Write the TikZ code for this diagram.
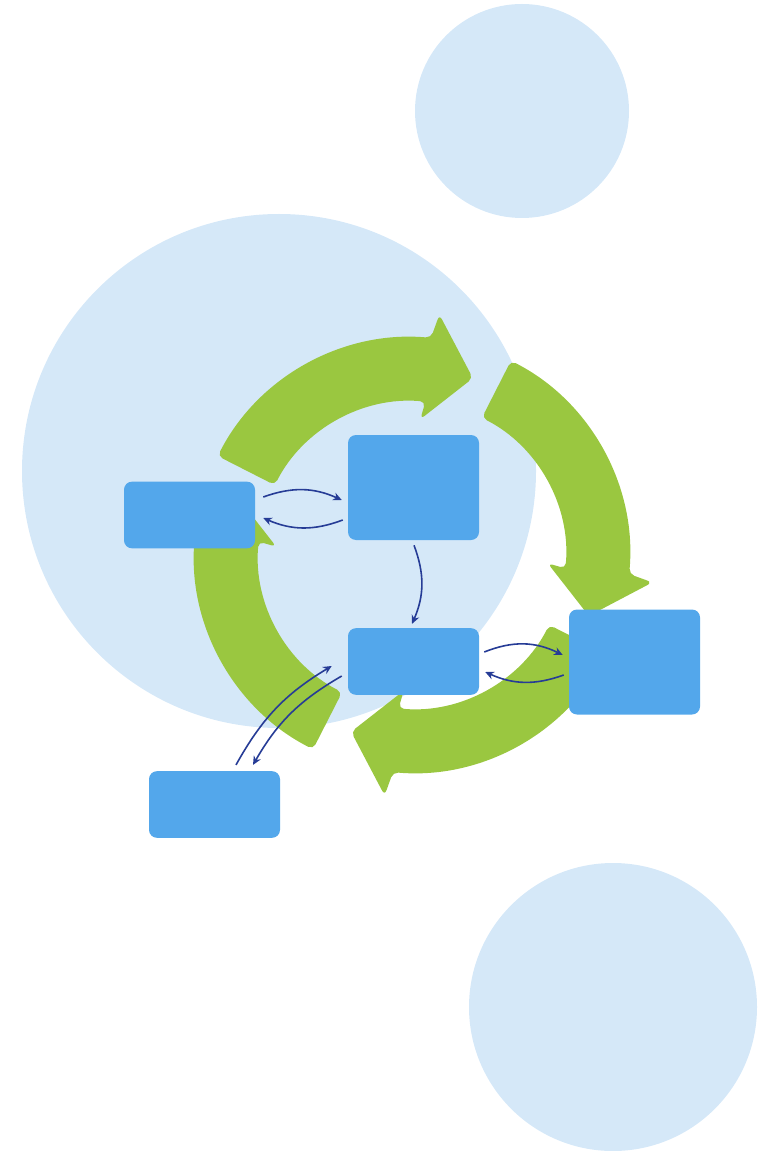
\documentclass[tikz,border=0pt]{standalone}
\usepackage{tikz}
\usepackage[dvipsnames]{xcolor}
\usetikzlibrary{arrows.meta}
\definecolor{bgblue}{RGB}{213,232,248}
\definecolor{cyclegreen}{RGB}{154,199,64}
\definecolor{boxblue}{RGB}{83,167,235}
\definecolor{linkblue}{RGB}{38,60,150}

\begin{document}
\begin{tikzpicture}[x=0.75pt,y=-0.75pt,
        stagebox/.style={fill=boxblue,rounded corners=6pt,inner sep=0pt,minimum width=98.25pt},
        shortbox/.style={stagebox,minimum height=50pt},
        tallbox/.style={stagebox,minimum height=78.75pt},
        link/.style={linkblue,line width=1.2pt,-{Stealth[length=6.5pt,width=6pt]}},
        cyclearrow/.style={fill=cyclegreen,rounded corners=4pt}]
                \useasboundingbox (0,0) rectangle (767,1151);
                \fill[bgblue] (522,111) circle (107);
                \fill[bgblue] (279,471) circle (257);
                \fill[bgblue] (613,1007) circle (144);
                \begin{scope}[shift={(412,555)},y=0.75pt]
                    \clip (-237,-238) rectangle (237,239);
                    \foreach \r in {0,90,180,270} {
                        \fill[cyclearrow,rotate=-\r] (153:218) arc[start angle=153,end angle=85,radius=218] -- (83.5:242) -- (71:187) -- (86.5:136) -- (85:154) arc[start angle=85,end angle=153,radius=154] -- cycle;
                    }
                \end{scope}
                \node[shortbox] (stageL) at (189.5,515) {};
                \node[tallbox] (stageT) at (413.5,487.5) {};
                \node[shortbox] (stageM) at (413.5,661.5) {};
                \node[tallbox] (stageR) at (634.5,662) {};
                \node[shortbox] (stageB) at (214.5,804.5) {};
                \draw[link] ([shift={(8,-18)}]stageL.east) to[bend left=22] ([shift={(-6,12.5)}]stageT.west);
                \draw[link] ([shift={(-5,32.5)}]stageT.west) to[bend left=22] ([shift={(8,3)}]stageL.east);
                \draw[link] ([shift={(0.5,5)}]stageT.south) to[bend left=22] ([shift={(-1.5,-4)}]stageM.north);
                \draw[link] ([shift={(5,-9.5)}]stageM.east) to[bend left=24] ([shift={(-6,-7)}]stageR.west);
                \draw[link] ([shift={(-5,13)}]stageR.west) to[bend left=22] ([shift={(6,10.5)}]stageM.east);
                \draw[link] ([shift={(21.5,-6)}]stageB.north) to[bend left=15] ([shift={(-16,4.5)}]stageM.west);
                \draw[link] ([shift={(-6,14.5)}]stageM.west) to[bend right=15] ([shift={(38.5,-6)}]stageB.north);
\end{tikzpicture}
\end{document}
